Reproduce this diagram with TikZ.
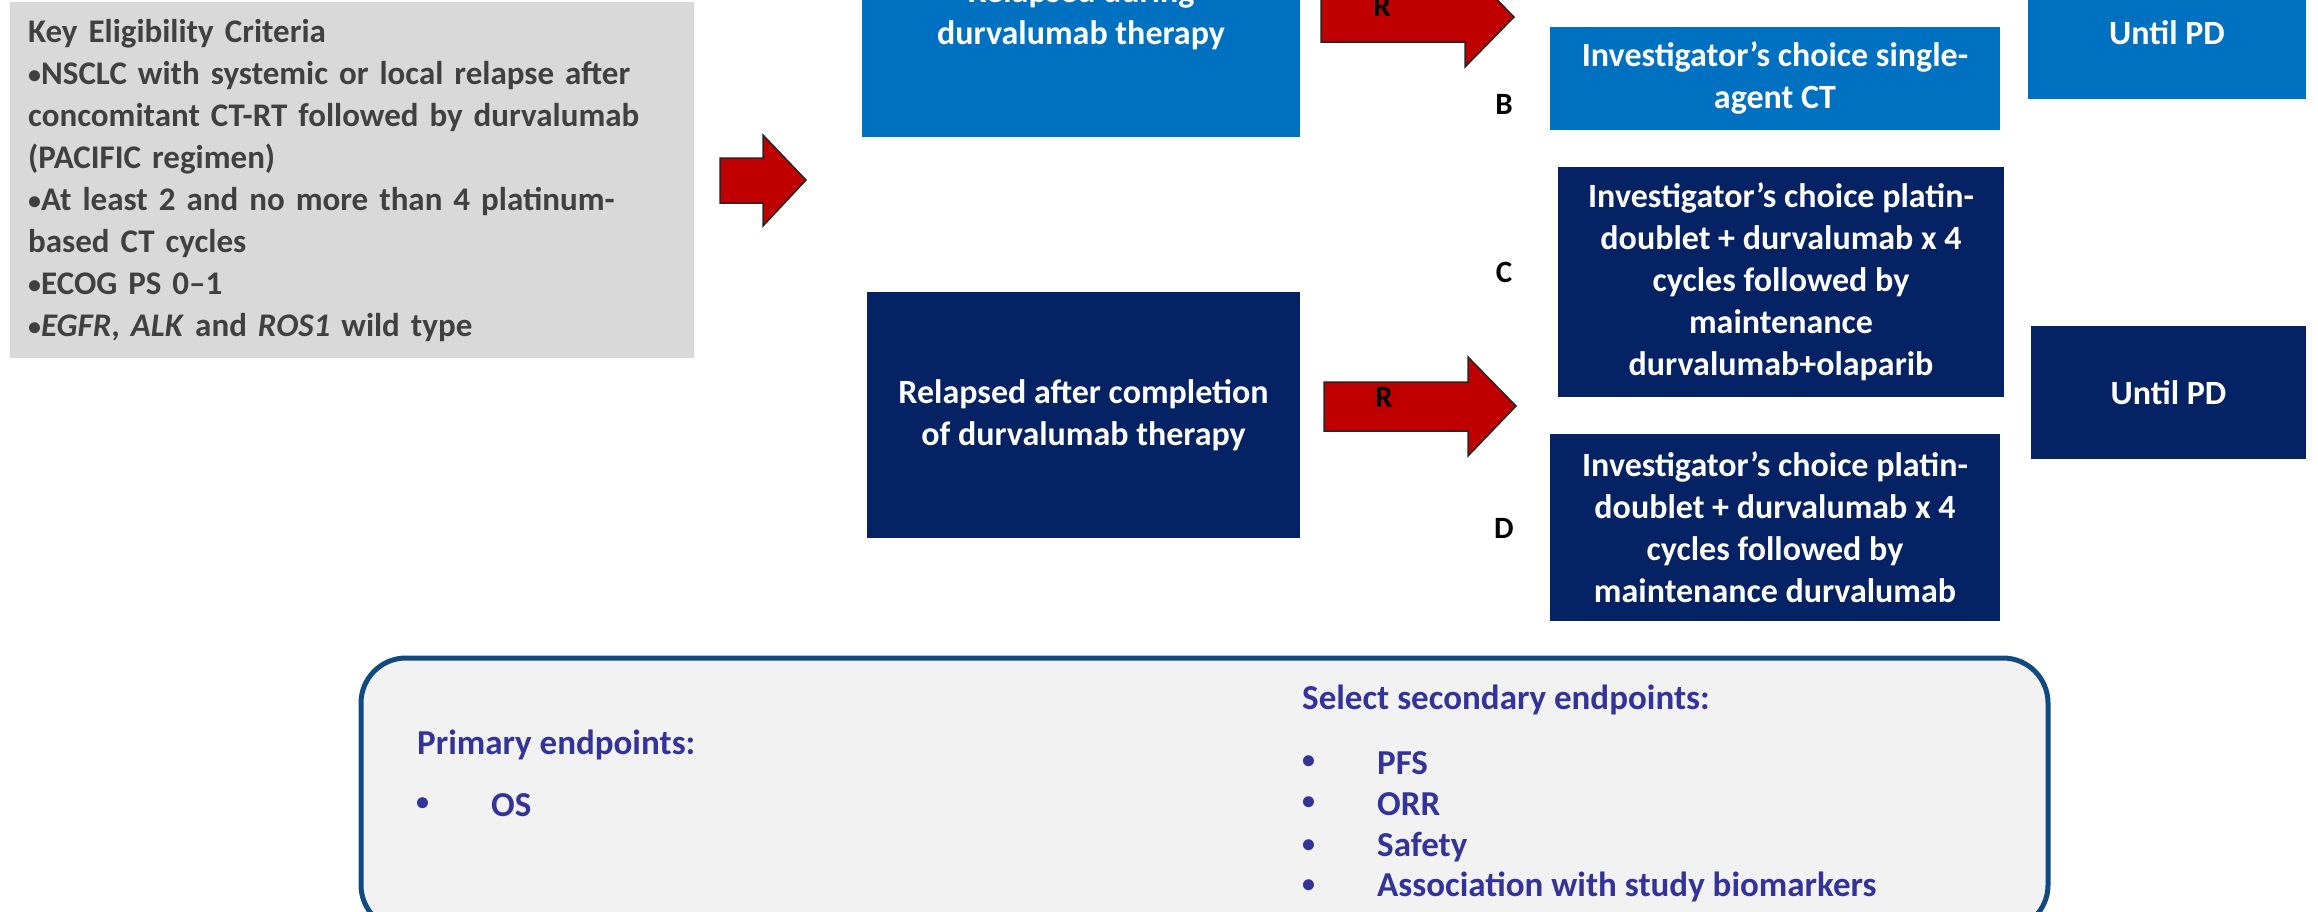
\documentclass[tikz,border=0pt]{standalone}
\usepackage{fontspec}
\setmainfont{Carlito}
\definecolor{grayfill}{HTML}{D9D9D9}
\definecolor{graytext}{HTML}{404040}
\definecolor{lightblue}{HTML}{0070C0}
\definecolor{navy}{HTML}{042264}
\definecolor{arrowred}{HTML}{C00000}
\definecolor{endtext}{HTML}{333399}
\definecolor{endborder}{HTML}{114A7E}
\definecolor{endfill}{HTML}{F2F2F2}
\newcommand{\smbul}{\raisebox{1pt}{\fontsize{26}{26}\selectfont\textbullet}}
\tikzset{
  bx/.style={rectangle, inner sep=0pt, align=center, text=white,
    font=\bfseries\fontsize{34}{42}\selectfont},
  lbl/.style={inner sep=0pt, font=\bfseries\fontsize{31}{36}\selectfont, text=black},
  endtxt/.style={inner sep=0pt, anchor=west, text=endtext,
    font=\bfseries\fontsize{35}{36}\selectfont},
  blockarrow/.style={fill=arrowred, draw=black!85, line width=1.5pt, line join=miter}
}
\begin{document}
\begin{tikzpicture}[x=1pt,y=-1pt]
\useasboundingbox (0,0) rectangle (2318,911);
\clip (0,0) rectangle (2318,911);
% eligibility box
\node[rectangle, fill=grayfill, anchor=north west, minimum width=684pt, minimum height=356pt,
  inner xsep=18pt, inner ysep=0pt, text width=648pt, align=left, text=graytext,
  font=\bfseries\fontsize{33}{42}\selectfont] (elig) at (10,2)
  {Key Eligibility Criteria\\
   \smbul NSCLC with systemic or local relapse after\\
   concomitant CT-RT followed by durvalumab\\
   (PACIFIC regimen)\\
   \smbul At least 2 and no more than 4 platinum-\\
   based CT cycles\\
   \smbul ECOG PS 0--1\\
   \smbul\textit{EGFR}, \textit{ALK} and \textit{ROS1} wild type};
% big arrow
\draw[blockarrow] (720,158) -- (763,158) -- (763,135) -- (806,180) -- (763,226) -- (763,203) -- (720,203) -- cycle;
% population boxes
\node[bx, fill=lightblue, minimum width=438pt, minimum height=246pt] (during) at (1081,14)
  {Relapsed during\\durvalumab therapy};
\node[bx, fill=navy, minimum width=433pt, minimum height=246pt] (after) at (1083.5,415)
  {Relapsed after completion\\of durvalumab therapy};
% randomisation arrows
\draw[blockarrow] (1321,-8) -- (1465,-8) -- (1465,-33) -- (1514,17) -- (1465,67) -- (1465,42) -- (1321,42) -- cycle;
\node[lbl] (r1) at (1382,6) {R};
\draw[blockarrow] (1324,382) -- (1468,382) -- (1468,357) -- (1516,406) -- (1468,456) -- (1468,431) -- (1324,431) -- cycle;
\node[lbl] (r2) at (1384,397) {R};
% arms
\node[bx, fill=lightblue, minimum width=450pt, minimum height=103pt] (armB) at (1775,78.5)
  {Investigator’s choice single-\\agent CT};
\node[bx, fill=navy, minimum width=446pt, minimum height=230pt] (armC) at (1781,282)
  {Investigator’s choice platin-\\doublet + durvalumab x 4\\cycles followed by\\maintenance\\durvalumab+olaparib};
\node[bx, fill=navy, minimum width=450pt, minimum height=187pt] (armD) at (1775,527.5)
  {Investigator’s choice platin-\\doublet + durvalumab x 4\\cycles followed by\\maintenance durvalumab};
\node[lbl] (lB) at (1504,104) {B};
\node[lbl] (lC) at (1504,272) {C};
\node[lbl] (lD) at (1504,528) {D};
% until PD
\node[bx, fill=lightblue, minimum width=278pt, minimum height=132pt] (pd1) at (2167,33) {Until PD};
\node[bx, fill=navy, minimum width=275pt, minimum height=133pt] (pd2) at (2168.5,392.5) {Until PD};
% endpoints box
\draw[endborder, fill=endfill, line width=5pt, rounded corners=45pt] (361,658) rectangle (2048,930);
\node[endtxt] (prim) at (417,745) {Primary endpoints:};
\node[endtxt] (b0) at (416,805) {\smbul};
\node[endtxt] (os) at (491,805) {OS};
\node[endtxt] (sec) at (1302,700) {Select secondary endpoints:};
\node[endtxt] (b1) at (1302,763) {\smbul};
\node[endtxt] (pfs) at (1377,763) {PFS};
\node[endtxt] (b2) at (1302,804) {\smbul};
\node[endtxt] (orr) at (1377,804) {ORR};
\node[endtxt] (b3) at (1302,847) {\smbul};
\node[endtxt] (saf) at (1377,847) {Safety};
\node[endtxt] (b4) at (1302,887) {\smbul};
\node[endtxt] (assoc) at (1377,887) {Association with study biomarkers};
\end{tikzpicture}
\end{document}
